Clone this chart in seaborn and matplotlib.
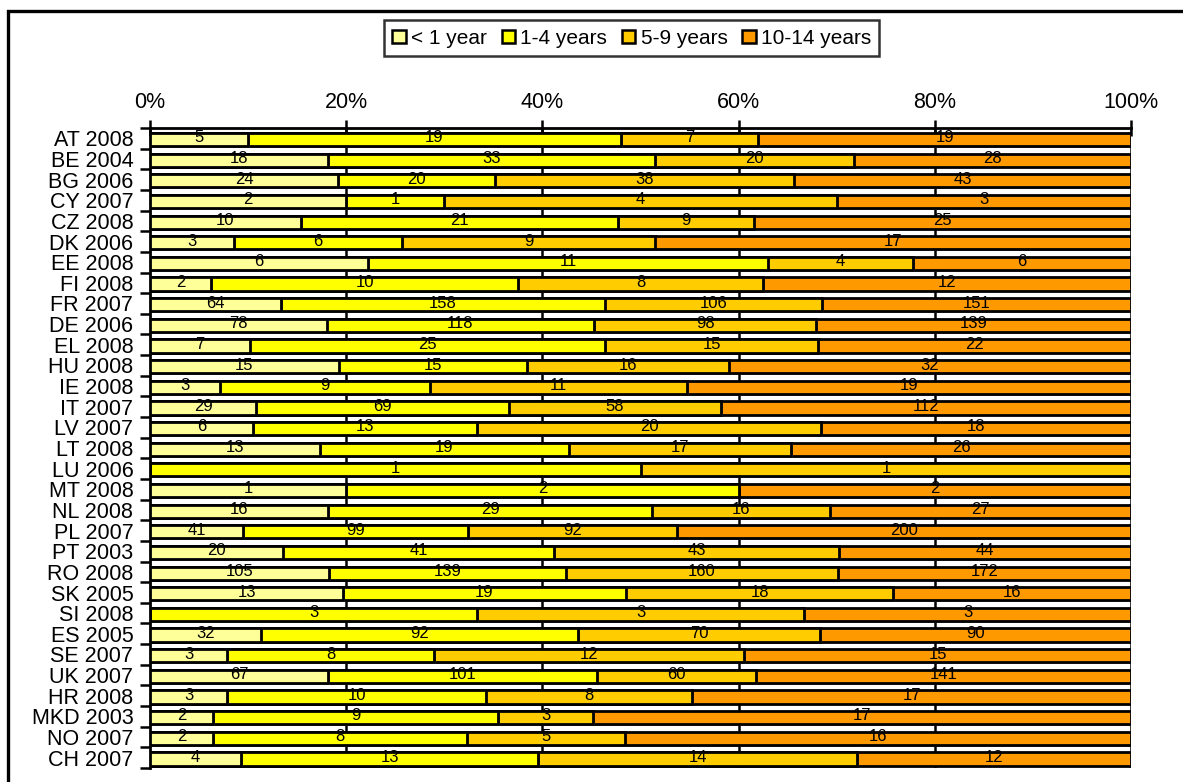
import numpy as np
import pandas as pd
import seaborn as sns
import matplotlib.pyplot as plt
import matplotlib.patheffects as pe
from matplotlib.patches import Patch, Rectangle

countries = ["AT 2008", "BE 2004", "BG 2006", "CY 2007", "CZ 2008", "DK 2006", "EE 2008",
             "FI 2008", "FR 2007", "DE 2006", "EL 2008", "HU 2008", "IE 2008", "IT 2007",
             "LV 2007", "LT 2008", "LU 2006", "MT 2008", "NL 2008", "PL 2007", "PT 2003",
             "RO 2008", "SK 2005", "SI 2008", "ES 2005", "SE 2007", "UK 2007", "HR 2008",
             "MKD 2003", "NO 2007", "CH 2007"]
lt1 = [5, 18, 24, 2, 10, 3, 6, 2, 64, 78, 7, 15, 3, 29, 6, 13, 0, 1, 16, 41, 20, 105, 13, 0, 32, 3, 67, 3, 2, 2, 4]
y1_4 = [19, 33, 20, 1, 21, 6, 11, 10, 158, 118, 25, 15, 9, 69, 13, 19, 1, 2, 29, 99, 41, 139, 19, 3, 92, 8, 101, 10, 9, 8, 13]
y5_9 = [7, 20, 38, 4, 9, 9, 4, 8, 106, 98, 15, 16, 11, 58, 20, 17, 1, 0, 16, 92, 43, 160, 18, 3, 70, 12, 60, 8, 3, 5, 14]
y10_14 = [19, 28, 43, 3, 25, 17, 6, 12, 151, 139, 22, 32, 19, 112, 18, 26, 0, 2, 27, 200, 44, 172, 16, 3, 90, 15, 141, 17, 17, 16, 12]

series = ["< 1 year", "1-4 years", "5-9 years", "10-14 years"]
colors = ["#FFFF99", "#FFFF00", "#FFCC00", "#FF9900"]

plt.rcParams['font.family'] = ['Liberation Sans', 'DejaVu Sans']

counts = np.array([lt1, y1_4, y5_9, y10_14], dtype=float)
totals = counts.sum(axis=0)
cum = np.cumsum(counts, axis=0) / totals * 100
starts = np.vstack([np.zeros(len(countries)), cum[:-1]])

fig = plt.figure(figsize=(11.83, 7.82), dpi=100)
ax = fig.add_axes([0.1268, 0.0179, 0.8294, 0.8184])

shadow = [pe.SimplePatchShadow(offset=(1.2, -1.2), shadow_rgbFace='#808080', alpha=0.9), pe.Normal()]

# draw widest first so the shorter ones sit on top -> stacked look
for k in range(3, -1, -1):
    df = pd.DataFrame({"country": countries, "value": cum[k]})
    sns.barplot(data=df, x="value", y="country", orient="h", color=colors[k],
                saturation=1, width=0.64, ax=ax)

for p in ax.patches:
    p.set_edgecolor("black")
    p.set_linewidth(2.0)
    p.set_zorder(3)
    p.set_path_effects(shadow)
    # bars sit a touch low in their slot in the original
    p.set_y(p.get_y() + 0.06)

for k in range(4):
    for i in range(len(countries)):
        if counts[k, i] > 0:
            mid = (starts[k, i] + cum[k, i]) / 2
            ax.text(mid, i - 0.02, str(int(counts[k, i])), ha="center", va="center",
                    fontsize=12, zorder=5)

ax.set_xlim(0, 100)
ax.set_ylim(len(countries) - 0.5, -0.5)
ax.set_xticks(np.arange(0, 101, 20))
ax.set_xticklabels([f"{v}%" for v in range(0, 101, 20)])
ax.xaxis.tick_top()
ax.tick_params(axis="x", direction="inout", length=12, width=1.8, labelsize=15.5, pad=5)
ax.set_yticks(np.arange(len(countries)))
ax.set_yticklabels(countries)
ax.set_yticks(np.arange(len(countries) + 1) - 0.5, minor=True)
ax.tick_params(axis="y", which="major", length=0, labelsize=15.5, pad=12)
ax.tick_params(axis="y", which="minor", length=7, width=1.8, direction="out")
ax.set_xlabel("")
ax.set_ylabel("")
ax.grid(False)
for v in range(20, 101, 20):
    ax.axvline(v, color="black", linewidth=1.8, zorder=1)
for s in ["right", "bottom"]:
    ax.spines[s].set_visible(False)
for s in ["left", "top"]:
    ax.spines[s].set_linewidth(2.0)
    ax.spines[s].set_color("black")

handles = [Patch(facecolor=c, edgecolor="black", linewidth=1.8) for c in colors]
leg = fig.legend(handles, series, loc="center", bbox_to_anchor=(0.534, 0.951), ncol=4,
                 fontsize=15, frameon=True, fancybox=False, handlelength=0.65, handleheight=0.65,
                 handletextpad=0.25, columnspacing=0.7, borderpad=0.4)
leg.get_frame().set_edgecolor("black")
leg.get_frame().set_linewidth(1.8)

fig.patches.append(Rectangle((8 / 1183, -0.02), 1.05, 1 - 11 / 782 + 0.02, transform=fig.transFigure,
                             fill=False, edgecolor="black", linewidth=2.4))

fig.savefig("out.png", dpi=100)
